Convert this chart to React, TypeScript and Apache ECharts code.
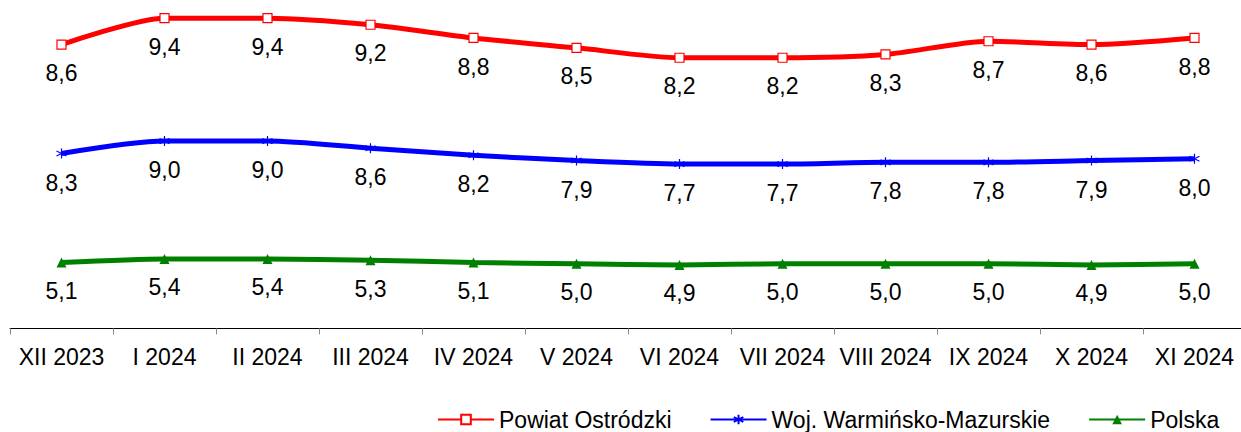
import React, { useEffect, useRef } from "react";
import * as echarts from "echarts";

const categories = ["XII 2023", "I 2024", "II 2024", "III 2024", "IV 2024", "V 2024", "VI 2024", "VII 2024", "VIII 2024", "IX 2024", "X 2024", "XI 2024"];
const powiat = [8.6, 9.4, 9.4, 9.2, 8.8, 8.5, 8.2, 8.2, 8.3, 8.7, 8.6, 8.8];
const wojewodztwo = [8.3, 9.0, 9.0, 8.6, 8.2, 7.9, 7.7, 7.7, 7.8, 7.8, 7.9, 8.0];
const polska = [5.1, 5.4, 5.4, 5.3, 5.1, 5.0, 4.9, 5.0, 5.0, 5.0, 4.9, 5.0];
const seriesNames = ["Powiat Ostródzki", "Woj. Warmińsko-Mazurskie", "Polska"];

const FONT = "Liberation Sans, Arial, sans-serif";
const asterisk = "path://M5,0L5,10M0.7,2.5L9.3,7.5M0.7,7.5L9.3,2.5";

export default function App() {
  const ref = useRef<HTMLDivElement>(null);
  useEffect(() => {
    if (!ref.current) return;
    const chart = echarts.init(ref.current, undefined, { renderer: "svg" });
    const fmt = (p: any) => Number(p.value).toFixed(1).replace(".", ",");
    const label = {
      show: true,
      position: "bottom",
      distance: 12,
      color: "#000",
      fontSize: 23,
      fontFamily: FONT,
      formatter: fmt,
    };
    const hiddenY = (min: number, max: number) => ({
      type: "value",
      min,
      max,
      show: false,
      splitLine: { show: false },
    });
    chart.setOption({
      animation: false,
      backgroundColor: "#fff",
      grid: { left: 10, top: 0, width: 1236, height: 330, outerBoundsMode: "none", containLabel: false },
      xAxis: {
        type: "category",
        data: categories,
        boundaryGap: true,
        axisLine: { lineStyle: { color: "#000", width: 1 } },
        axisTick: { show: true, length: 6, lineStyle: { color: "#888" }, alignWithLabel: false },
        axisLabel: { color: "#000", fontSize: 23, fontFamily: FONT, margin: 15, interval: 0 },
      },
      yAxis: [hiddenY(-0.05, 9.95), hiddenY(-1.67, 16.97), hiddenY(-0.52, 26.98)],
      legend: {
        left: 437,
        top: 408,
        padding: 0,
        itemWidth: 56,
        itemHeight: 12,
        itemGap: 38,
        textStyle: { color: "#000", fontSize: 23, fontFamily: FONT },
        data: seriesNames,
      },
      series: [
        {
          name: seriesNames[0],
          type: "line",
          yAxisIndex: 0,
          data: powiat,
          smooth: 0.25,
          symbol: "rect",
          symbolSize: 9,
          showAllSymbol: true,
          lineStyle: { color: "#FF0000", width: 5 },
          itemStyle: { color: "#FFFFFF", borderColor: "#FF0000", borderWidth: 1.2 },
          label,
        },
        {
          name: seriesNames[1],
          type: "line",
          yAxisIndex: 1,
          data: wojewodztwo,
          smooth: 0.25,
          symbol: asterisk,
          symbolSize: 10,
          showAllSymbol: true,
          lineStyle: { color: "#0000FF", width: 5 },
          itemStyle: { color: "#0000FF", borderColor: "#0000FF", borderWidth: 1.2 },
          label,
        },
        {
          name: seriesNames[2],
          type: "line",
          yAxisIndex: 2,
          data: polska,
          smooth: 0.25,
          symbol: "triangle",
          symbolSize: 10,
          showAllSymbol: true,
          lineStyle: { color: "#008000", width: 5 },
          itemStyle: { color: "#008000" },
          label,
        },
      ],
    });
    return () => chart.dispose();
  }, []);
  return (
    <div
      ref={ref}
      style={{ position: "fixed", left: 0, top: 0, width: 1241, height: 432, background: "#fff" }}
    />
  );
}
